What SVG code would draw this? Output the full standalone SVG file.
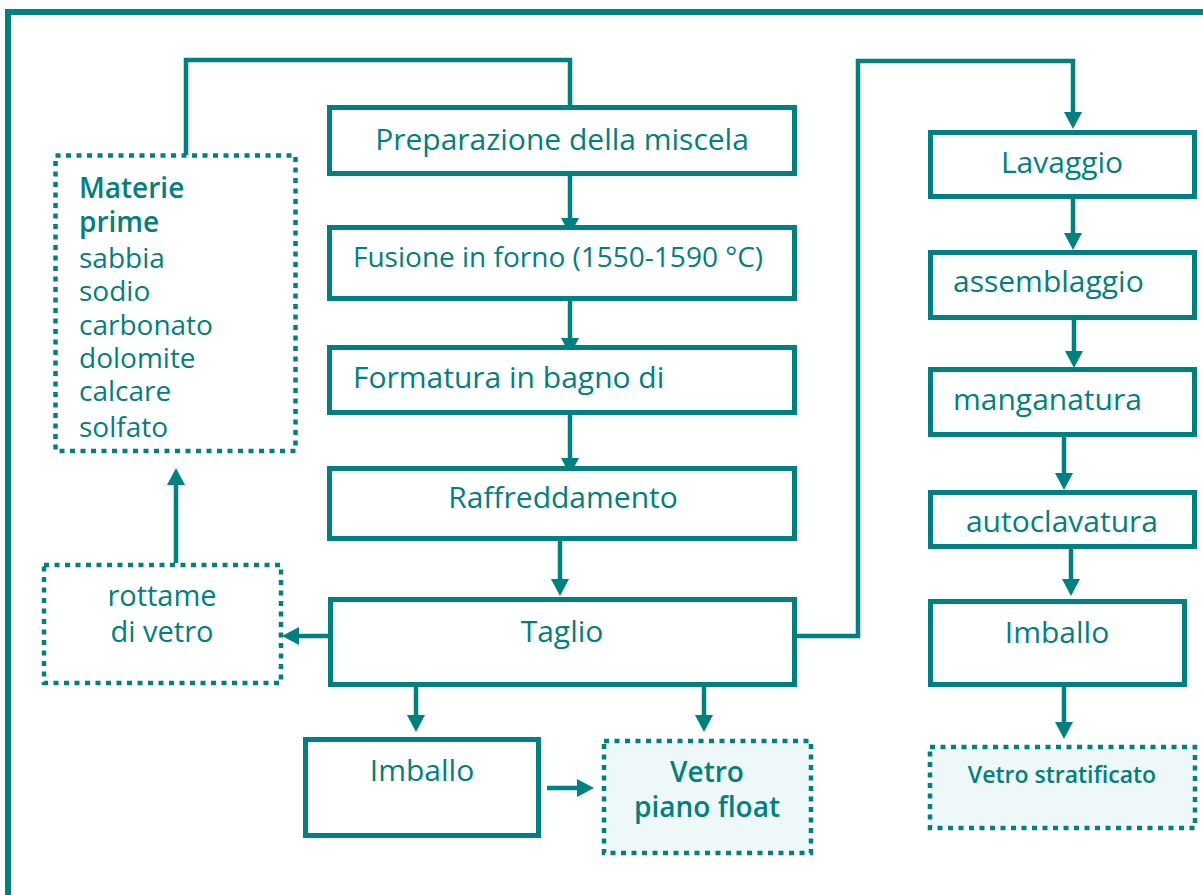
<svg xmlns="http://www.w3.org/2000/svg" width="1203" height="895" viewBox="0 0 1203 895">
  <style>
    .box { fill: #ffffff; stroke: #008080; stroke-width: 5; }
    .dot { fill: #ffffff; stroke: #008080; stroke-width: 4.5; stroke-dasharray: 5 5.5; }
    .out { fill: #eff8f9; }
    .wire { fill: none; stroke: #008080; stroke-width: 4.5; }
    .frame { fill: none; stroke: #008080; stroke-width: 6; }
    text { font-family: "Open Sans", "Noto Sans", sans-serif; fill: #008080; font-size: 30px; }
    .c { text-anchor: middle; }
    .b { font-weight: 600; }
    .s28 { font-size: 28px; }
  </style>
  <defs>
    <marker id="arrow" markerUnits="userSpaceOnUse" markerWidth="17" markerHeight="18" refX="7" refY="9" orient="auto">
      <path d="M0,0 L17,9 L0,18 z" fill="#008080"/>
    </marker>
  </defs>

  <!-- outer frame -->
  <path class="frame" d="M8,895 V12 H1203"/>

  <!-- connectors -->
  <g id="connectors">
    <path class="wire" d="M186,155 V60 H570 V107" stroke-width="5"/>
    <path class="wire" d="M570,176 V225" marker-end="url(#arrow)"/>
    <path class="wire" d="M570,301 V345" marker-end="url(#arrow)"/>
    <path class="wire" d="M570,415 V465" marker-end="url(#arrow)"/>
    <path class="wire" d="M560,541 V586" marker-end="url(#arrow)"/>
    <path class="wire" d="M328,636 H292" marker-end="url(#arrow)"/>
    <path class="wire" d="M176,563 V478" marker-end="url(#arrow)"/>
    <path class="wire" d="M416,687 V722" marker-end="url(#arrow)"/>
    <path class="wire" d="M704,687 V722" marker-end="url(#arrow)"/>
    <path class="wire" d="M547,788 H584" marker-end="url(#arrow)"/>
    <path class="wire" d="M797,636 H858 V61 H1073 V119" marker-end="url(#arrow)"/>
    <path class="wire" d="M1073,199 V240" marker-end="url(#arrow)"/>
    <path class="wire" d="M1074,320 V358" marker-end="url(#arrow)"/>
    <path class="wire" d="M1064,437 V480" marker-end="url(#arrow)"/>
    <path class="wire" d="M1071,540 V586" marker-end="url(#arrow)"/>
    <path class="wire" d="M1064,687 V729" marker-end="url(#arrow)"/>
  </g>

  <!-- raw materials -->
  <g id="materie-prime">
    <rect class="dot" x="55.5" y="155.5" width="240" height="295.5"/>
    <text class="b s28" x="79" y="198">Materie</text>
    <text class="b s28" x="79" y="232">prime</text>
    <text class="s28" x="79" y="268">sabbia</text>
    <text class="s28" x="79" y="301">sodio</text>
    <text class="s28" x="79" y="335">carbonato</text>
    <text class="s28" x="79" y="368">dolomite</text>
    <text class="s28" x="79" y="401">calcare</text>
    <text class="s28" x="79" y="437">solfato</text>
  </g>

  <!-- float glass line -->
  <g id="preparazione">
    <rect class="box" x="329.5" y="107.5" width="465" height="66"/>
    <text class="c" x="562" y="150">Preparazione della miscela</text>
  </g>
  <g id="fusione">
    <rect class="box" x="329.5" y="227.5" width="465" height="71"/>
    <text class="s28" x="353" y="267">Fusione in forno (1550-1590 °C)</text>
  </g>
  <g id="formatura">
    <rect class="box" x="329.5" y="347.5" width="465" height="65"/>
    <text x="353" y="388">Formatura in bagno di</text>
  </g>
  <g id="raffreddamento">
    <rect class="box" x="329.5" y="468.5" width="465" height="70"/>
    <text class="c" x="563" y="508">Raffreddamento</text>
  </g>
  <g id="taglio">
    <rect class="box" x="330.5" y="599.5" width="464" height="85"/>
    <text class="c" x="562" y="642">Taglio</text>
  </g>
  <g id="rottame">
    <rect class="dot" x="44" y="565" width="237" height="118"/>
    <text class="c" x="162" y="606" style="font-size:29px">rottame</text>
    <text class="c" x="162" y="642" style="font-size:29px">di vetro</text>
  </g>
  <g id="imballo-float">
    <rect class="box" x="305.5" y="739.5" width="233" height="96"/>
    <text class="c" x="422" y="781">Imballo</text>
  </g>
  <g id="vetro-float">
    <rect class="dot out" x="604" y="741" width="207" height="112"/>
    <text class="c b s28" x="707" y="782">Vetro</text>
    <text class="c b s28" x="707" y="817">piano float</text>
  </g>

  <!-- laminated glass line -->
  <g id="lavaggio">
    <rect class="box" x="930.5" y="132.5" width="264" height="64"/>
    <text class="c" x="1062" y="173">Lavaggio</text>
  </g>
  <g id="assemblaggio">
    <rect class="box" x="930.5" y="252.5" width="264" height="65"/>
    <text x="953" y="292">assemblaggio</text>
  </g>
  <g id="manganatura">
    <rect class="box" x="930.5" y="369.5" width="264" height="65"/>
    <text x="953" y="410">manganatura</text>
  </g>
  <g id="autoclavatura">
    <rect class="box" x="930.5" y="492.5" width="264" height="54"/>
    <text class="c" x="1062" y="532">autoclavatura</text>
  </g>
  <g id="imballo-stratificato">
    <rect class="box" x="930.5" y="601.5" width="254" height="83"/>
    <text class="c" x="1057" y="643">Imballo</text>
  </g>
  <g id="vetro-stratificato">
    <rect class="dot out" x="930" y="747" width="265" height="81"/>
    <text class="c b" x="1062" y="783" style="font-size:23px">Vetro stratificato</text>
  </g>
</svg>
